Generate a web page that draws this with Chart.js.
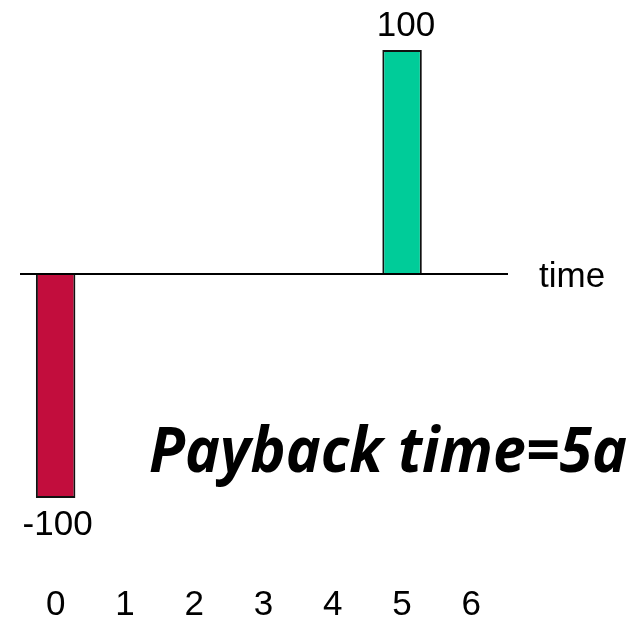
<!DOCTYPE html>
<html>
<head>
<meta charset="utf-8">
<script src="https://cdn.jsdelivr.net/npm/chart.js@4.4.1/dist/chart.umd.min.js"></script>
<style>
  html, body { margin: 0; padding: 0; background: #ffffff; }
  #wrap { width: 631px; height: 621px; position: relative; }
</style>
</head>
<body>
<div id="wrap"><canvas id="c" width="631" height="621"></canvas></div>
<script>
// Cash flow per year: initial investment and the single return
const years = ['0', '1', '2', '3', '4', '5', '6'];
const cashFlow = [-100, null, null, null, null, 100, null];
const barColors = ['#C20D3D', '#00CC99', '#00CC99', '#00CC99', '#00CC99', '#00CC99', '#00CC99'];
const axisTitle = 'time';
const note = 'Payback time=5a';

const labelFont = '35px "Liberation Sans", Arial, sans-serif';

// Zero line, "time" caption, value labels and the payback note
const decorations = {
  id: 'decorations',
  afterDatasetsDraw(chart) {
    const ctx = chart.ctx;
    const area = chart.chartArea;
    const y = chart.scales.y;
    const y0 = y.getPixelForValue(0);
    ctx.save();
    ctx.strokeStyle = '#000';
    ctx.lineWidth = 2;
    ctx.beginPath();
    ctx.moveTo(area.left - 1, y0);
    ctx.lineTo(area.right + 2, y0);
    ctx.stroke();

    ctx.fillStyle = '#000';
    ctx.font = labelFont;
    ctx.textAlign = 'left';
    ctx.textBaseline = 'middle';
    ctx.fillText(axisTitle, area.right + 33, y0 + 3);

    const meta = chart.getDatasetMeta(0);
    ctx.textAlign = 'center';
    meta.data.forEach((bar, i) => {
      const v = cashFlow[i];
      if (v === null || v === undefined) return;
      const txt = String(v);
      if (v >= 0) {
        ctx.textBaseline = 'bottom';
        ctx.fillText(txt, bar.x + 4, bar.y - 6);
      } else {
        ctx.textBaseline = 'top';
        ctx.fillText(txt, bar.x + 2, bar.y + 10);
      }
    });

    // payback note, fitted to its width
    ctx.font = 'italic bold 62px "Open Sans", sans-serif';
    ctx.textAlign = 'left';
    ctx.textBaseline = 'alphabetic';
    const w = ctx.measureText(note).width;
    const targetW = 478;
    ctx.translate(149, 472);
    ctx.scale(targetW / w, 1);
    ctx.fillText(note, 0, 0);
    ctx.restore();
  }
};

new Chart(document.getElementById('c'), {
  type: 'bar',
  data: {
    labels: years,
    datasets: [{
      data: cashFlow,
      backgroundColor: barColors,
      borderColor: '#111111',
      borderWidth: 2,
      categoryPercentage: 1,
      barPercentage: 0.57,
      skipNull: true
    }]
  },
  options: {
    responsive: false,
    animation: false,
    devicePixelRatio: 1,
    layout: { padding: { left: 21, right: 125, top: 50, bottom: 0 } },
    plugins: { legend: { display: false }, tooltip: { enabled: false } },
    scales: {
      x: {
        grid: { display: false, drawTicks: false },
        border: { display: false },
        ticks: {
          color: '#000',
          padding: 90,
          maxRotation: 0,
          autoSkip: false,
          font: { family: '"Liberation Sans", Arial, sans-serif', size: 35, lineHeight: 1 }
        },
        afterFit(scale) {
          scale.height = 123;
          scale.paddingLeft = 0;
          scale.paddingRight = 0;
        }
      },
      y: {
        display: false,
        min: -100,
        max: 100
      }
    }
  },
  plugins: [decorations]
});
</script>
</body>
</html>
